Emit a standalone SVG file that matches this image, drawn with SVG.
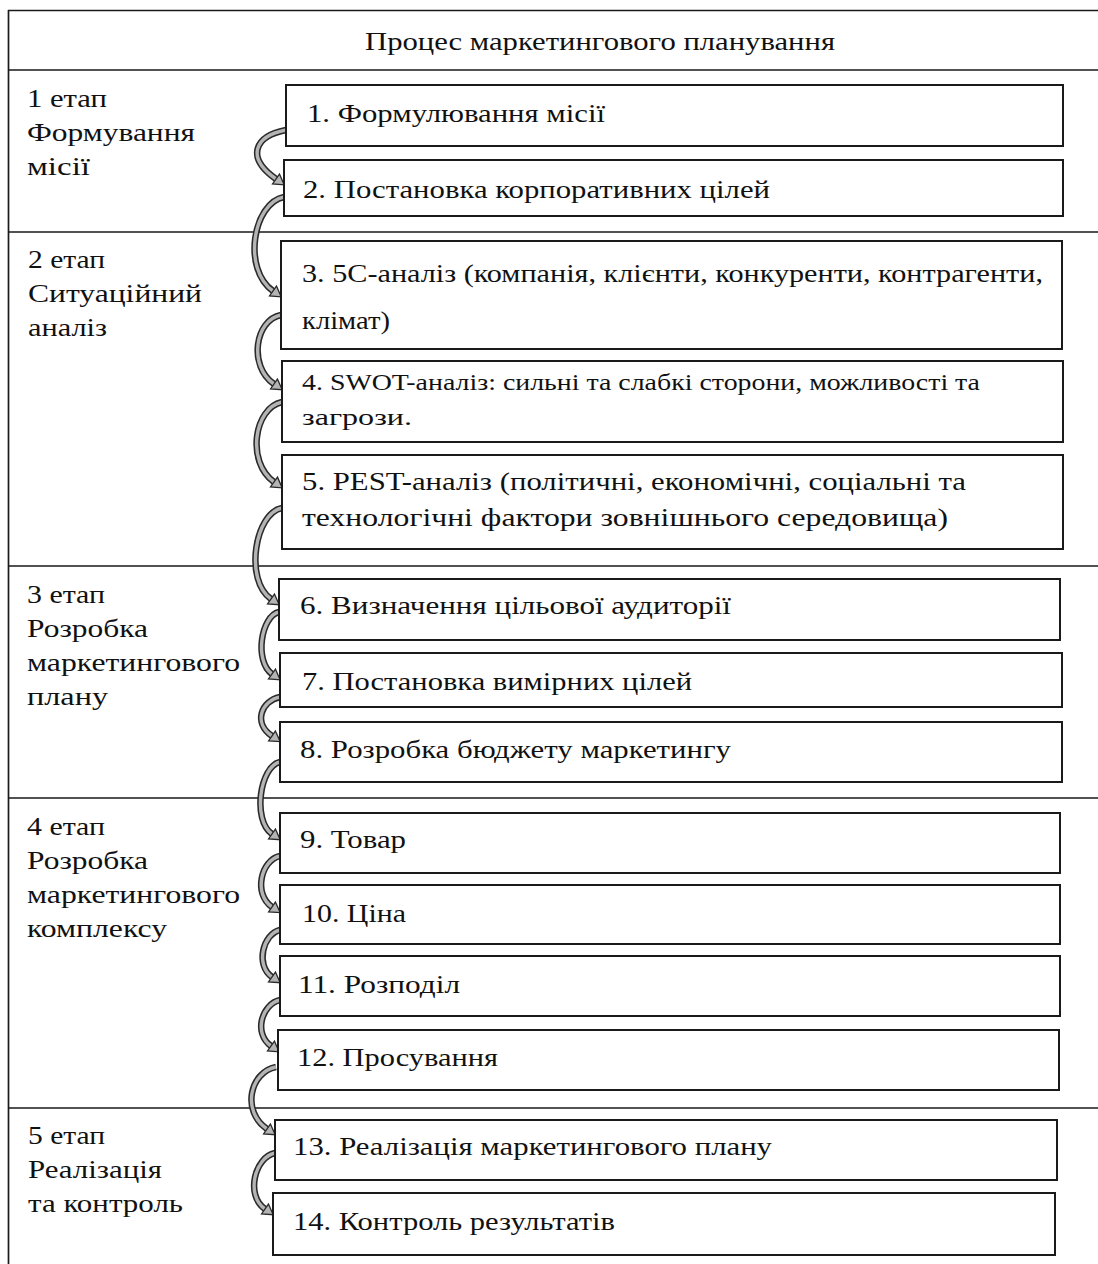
<svg xmlns="http://www.w3.org/2000/svg" width="1098" height="1264" viewBox="0 0 1098 1264" font-family="Liberation Serif, Times New Roman, serif">
<defs>
<style>
.frame{stroke:#1a1a1a;stroke-width:1.7;fill:none}
.box{fill:#fff;stroke:#1a1a1a;stroke-width:2}
.t{font-family:'Liberation Serif',serif;font-size:26px;fill:#111}
.s{font-size:23px}
.band-o{fill:none;stroke:#2a2a2a;stroke-width:6.5;stroke-linecap:butt}
.band-i{fill:none;stroke:#b4b4b4;stroke-width:3.4;stroke-linecap:butt;marker-end:url(#head)}
</style>
<marker id="head" markerUnits="userSpaceOnUse" markerWidth="16" markerHeight="16" refX="1" refY="8" orient="auto" overflow="visible">
<path d="M1,2 L11,8 L1,14 z" fill="#b4b4b4" stroke="#2a2a2a" stroke-width="1.3" stroke-linejoin="miter"/>
</marker>
</defs>
<rect x="0" y="0" width="1098" height="1264" fill="#fff"/>
<g id="table">
<path class="frame" d="M8,10.5 H1098 M8.5,10 V1264 M8,70 H1098 M8,232 H1098 M8,566 H1098 M8,798 H1098 M8,1108 H1098"/>
<text class="t" x="365" y="50" textLength="470" lengthAdjust="spacingAndGlyphs">Процес маркетингового планування</text>
</g>
<g id="stage1">
<text class="t" x="27" y="107" textLength="80" lengthAdjust="spacingAndGlyphs">1 етап</text>
<text class="t" x="27" y="141" textLength="168" lengthAdjust="spacingAndGlyphs">Формування</text>
<text class="t" x="27" y="175" textLength="63" lengthAdjust="spacingAndGlyphs">місії</text>
</g>
<g id="stage2">
<text class="t" x="28" y="268" textLength="77" lengthAdjust="spacingAndGlyphs">2 етап</text>
<text class="t" x="28" y="302" textLength="174" lengthAdjust="spacingAndGlyphs">Ситуаційний</text>
<text class="t" x="28" y="336" textLength="79" lengthAdjust="spacingAndGlyphs">аналіз</text>
</g>
<g id="stage3">
<text class="t" x="27" y="603" textLength="78" lengthAdjust="spacingAndGlyphs">3 етап</text>
<text class="t" x="27" y="637" textLength="121" lengthAdjust="spacingAndGlyphs">Розробка</text>
<text class="t" x="27" y="671" textLength="213" lengthAdjust="spacingAndGlyphs">маркетингового</text>
<text class="t" x="27" y="705" textLength="81" lengthAdjust="spacingAndGlyphs">плану</text>
</g>
<g id="stage4">
<text class="t" x="27" y="835" textLength="78" lengthAdjust="spacingAndGlyphs">4 етап</text>
<text class="t" x="27" y="869" textLength="121" lengthAdjust="spacingAndGlyphs">Розробка</text>
<text class="t" x="27" y="903" textLength="213" lengthAdjust="spacingAndGlyphs">маркетингового</text>
<text class="t" x="27" y="937" textLength="140" lengthAdjust="spacingAndGlyphs">комплексу</text>
</g>
<g id="stage5">
<text class="t" x="28" y="1144" textLength="77" lengthAdjust="spacingAndGlyphs">5 етап</text>
<text class="t" x="28" y="1178" textLength="134" lengthAdjust="spacingAndGlyphs">Реалізація</text>
<text class="t" x="28" y="1212" textLength="155" lengthAdjust="spacingAndGlyphs">та контроль</text>
</g>
<g id="connectors">
<path class="band-o" d="M286,130 C255,136 245,157 276,179"/>
<path class="band-i" d="M286,130 C255,136 245,157 276,179"/>
<path class="band-o" d="M284,197 C253,203 242,269 273,291"/>
<path class="band-i" d="M284,197 C253,203 242,269 273,291"/>
<path class="band-o" d="M281,315 C255,320 248,366 274,384"/>
<path class="band-i" d="M281,315 C255,320 248,366 274,384"/>
<path class="band-o" d="M282,402 C254,408 246,462 274,482"/>
<path class="band-i" d="M282,402 C254,408 246,462 274,482"/>
<path class="band-o" d="M282,508 C255,513 244,580 271,599"/>
<path class="band-i" d="M282,508 C255,513 244,580 271,599"/>
<path class="band-o" d="M279,612 C261,616 254,661 272,674"/>
<path class="band-i" d="M279,612 C261,616 254,661 272,674"/>
<path class="band-o" d="M280,697 C261,701 253,723 272,736"/>
<path class="band-i" d="M280,697 C261,701 253,723 272,736"/>
<path class="band-o" d="M280,762 C260,766 252,820 272,834"/>
<path class="band-i" d="M280,762 C260,766 252,820 272,834"/>
<path class="band-o" d="M280,856 C261,860 253,894 272,907"/>
<path class="band-i" d="M280,856 C261,860 253,894 272,907"/>
<path class="band-o" d="M280,930 C263,934 255,965 272,977"/>
<path class="band-i" d="M280,930 C263,934 255,965 272,977"/>
<path class="band-o" d="M280,1000 C262,1004 253,1033 271,1046"/>
<path class="band-i" d="M280,1000 C262,1004 253,1033 271,1046"/>
<path class="band-o" d="M276,1067 C250,1072 241,1111 267,1129"/>
<path class="band-i" d="M276,1067 C250,1072 241,1111 267,1129"/>
<path class="band-o" d="M275,1153 C255,1157 245,1195 265,1209"/>
<path class="band-i" d="M275,1153 C255,1157 245,1195 265,1209"/>
</g>
<g id="node1"><rect class="box" x="286" y="85" width="777" height="61"/>
<text class="t" x="307" y="122" textLength="298" lengthAdjust="spacingAndGlyphs">1. Формулювання місії</text></g>
<g id="node2"><rect class="box" x="284" y="160" width="779" height="56"/>
<text class="t" x="303" y="198" textLength="467" lengthAdjust="spacingAndGlyphs">2. Постановка корпоративних цілей</text></g>
<g id="node3"><rect class="box" x="281" y="241" width="781" height="108"/>
<text class="t" x="302" y="282" textLength="741" lengthAdjust="spacingAndGlyphs">3. 5С-аналіз (компанія, клієнти, конкуренти, контрагенти,</text>
<text class="t" x="302" y="329" textLength="88" lengthAdjust="spacingAndGlyphs">клімат)</text></g>
<g id="node4"><rect class="box" x="282" y="361" width="781" height="81"/>
<text class="t s" x="302" y="390" textLength="678" lengthAdjust="spacingAndGlyphs">4. SWOT-аналіз: сильні та слабкі сторони, можливості та</text>
<text class="t s" x="302" y="425" textLength="110" lengthAdjust="spacingAndGlyphs">загрози.</text></g>
<g id="node5"><rect class="box" x="282" y="455" width="781" height="94"/>
<text class="t" x="302" y="490" textLength="664" lengthAdjust="spacingAndGlyphs">5. PEST-аналіз (політичні, економічні, соціальні та</text>
<text class="t" x="302" y="526" textLength="646" lengthAdjust="spacingAndGlyphs">технологічні фактори зовнішнього середовища)</text></g>
<g id="node6"><rect class="box" x="279" y="579" width="781" height="61"/>
<text class="t" x="300" y="614" textLength="431" lengthAdjust="spacingAndGlyphs">6. Визначення цільової аудиторії</text></g>
<g id="node7"><rect class="box" x="280" y="653" width="782" height="54"/>
<text class="t" x="302" y="690" textLength="390" lengthAdjust="spacingAndGlyphs">7. Постановка вимірних цілей</text></g>
<g id="node8"><rect class="box" x="280" y="722" width="782" height="60"/>
<text class="t" x="300" y="758" textLength="431" lengthAdjust="spacingAndGlyphs">8. Розробка бюджету маркетингу</text></g>
<g id="node9"><rect class="box" x="280" y="813" width="780" height="60"/>
<text class="t" x="300" y="848" textLength="106" lengthAdjust="spacingAndGlyphs">9. Товар</text></g>
<g id="node10"><rect class="box" x="280" y="885" width="780" height="59"/>
<text class="t" x="302" y="922" textLength="104" lengthAdjust="spacingAndGlyphs">10. Ціна</text></g>
<g id="node11"><rect class="box" x="280" y="956" width="780" height="60"/>
<text class="t" x="298" y="993" textLength="162" lengthAdjust="spacingAndGlyphs">11. Розподіл</text></g>
<g id="node12"><rect class="box" x="278" y="1030" width="781" height="60"/>
<text class="t" x="297" y="1066" textLength="201" lengthAdjust="spacingAndGlyphs">12. Просування</text></g>
<g id="node13"><rect class="box" x="275" y="1120" width="782" height="60"/>
<text class="t" x="293" y="1155" textLength="479" lengthAdjust="spacingAndGlyphs">13. Реалізація маркетингового плану</text></g>
<g id="node14"><rect class="box" x="273" y="1193" width="782" height="62"/>
<text class="t" x="293" y="1230" textLength="322" lengthAdjust="spacingAndGlyphs">14. Контроль результатів</text></g>
</svg>
